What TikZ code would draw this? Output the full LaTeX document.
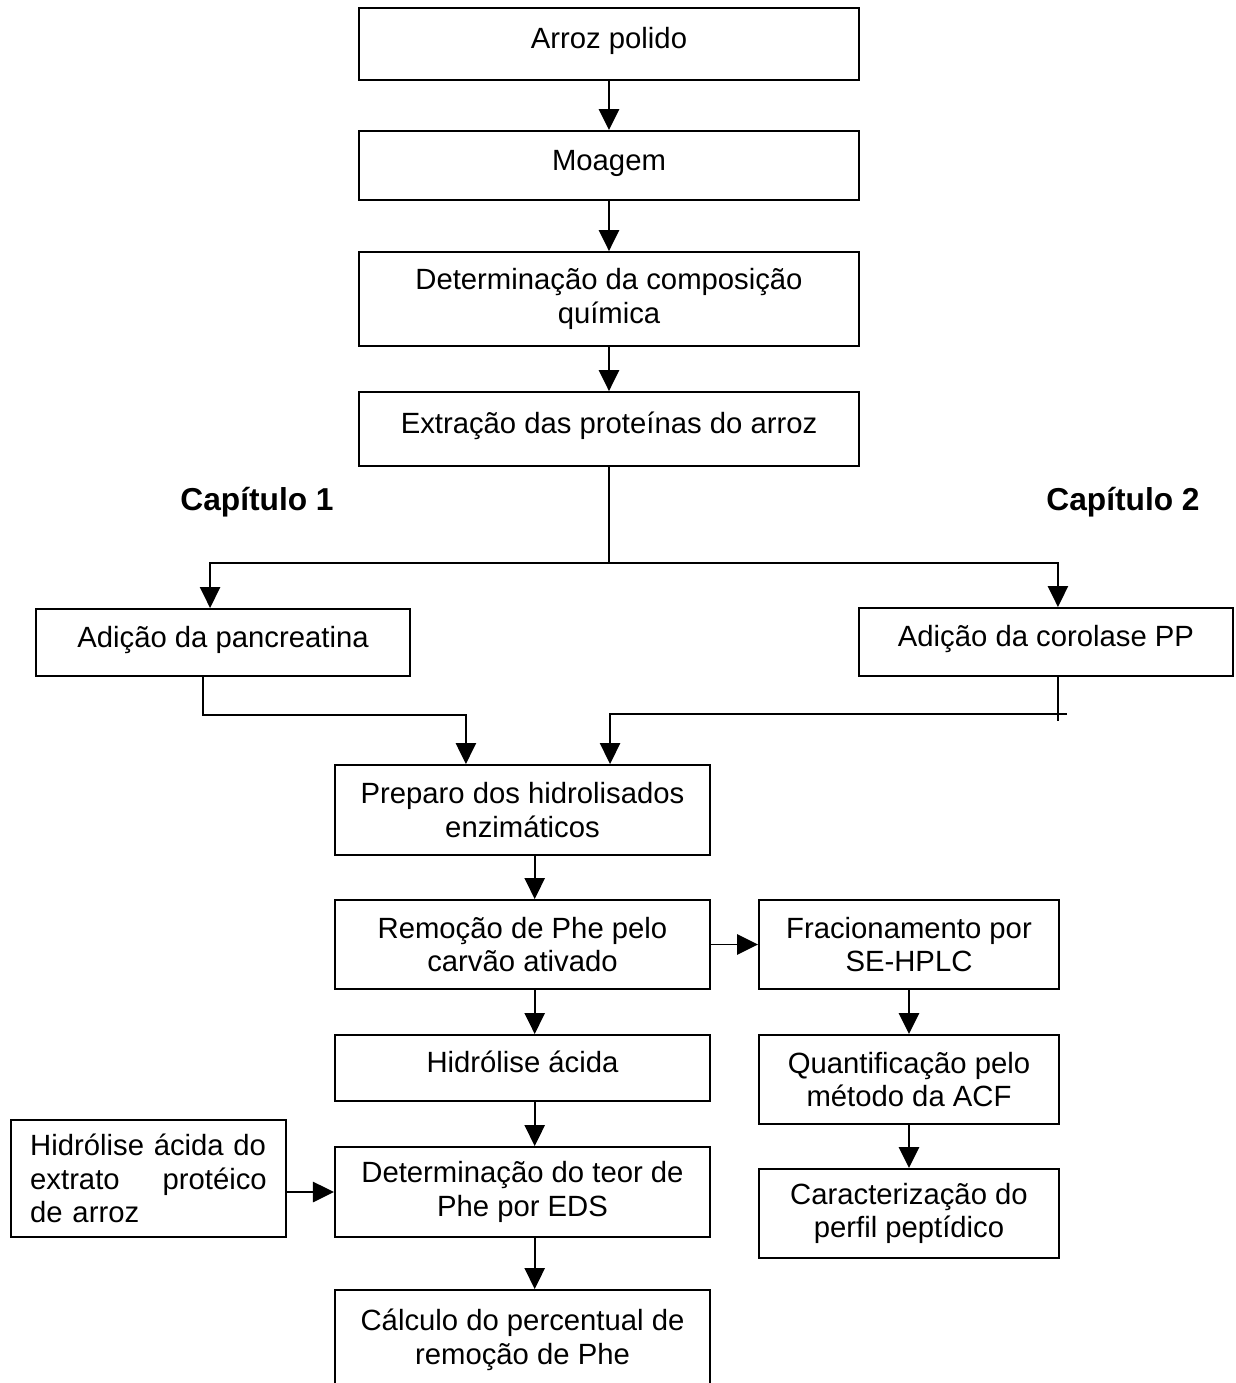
\documentclass[tikz,border=0pt]{standalone}
\usepackage{fontspec}
\setmainfont{Liberation Sans}
\usetikzlibrary{arrows.meta,positioning,calc}

\begin{document}
\begin{tikzpicture}[x=0.41pt,y=-0.41pt,
  font=\fontsize{12}{13.8}\selectfont,
  box/.style={draw,line width=0.8pt,align=center,inner sep=2pt},
  one/.style={text height=9pt,text depth=5pt},
  chaplabel/.style={font=\fontsize{13}{15}\selectfont\bfseries},
  arr/.style={line width=0.75pt,-{Triangle[width=8.3pt,length=8.6pt]}},
  lin/.style={line width=0.75pt}]
  \useasboundingbox (0,0) rectangle (1236,1383);

  \node[box,one,minimum width=205pt,minimum height=29.5pt] (arroz) at (609,44) {Arroz polido};
  \node[box,one,minimum width=205pt,minimum height=28.3pt] (moagem) at (609,165.5) {Moagem};
  \node[box,minimum width=205pt,minimum height=38.5pt] (compos) at (609,299) {Determinação da composição\\química};
  \node[box,one,minimum width=205pt,minimum height=30.3pt] (extracao) at (609,429) {Extração das proteínas do arroz};

  \node[chaplabel] (chap1) at (257,502) {Capítulo 1};
  \node[chaplabel] (chap2) at (1123,502) {Capítulo 2};

  \node[box,one,minimum width=153.3pt,minimum height=27.5pt] (pancrea) at (223,642.5) {Adição da pancreatina};
  \node[box,one,minimum width=153.3pt,minimum height=27.9pt] (corolase) at (1046,642) {Adição da corolase PP};

  \node[box,minimum width=153.8pt,minimum height=36.9pt] (preparo) at (522.5,810) {Preparo dos hidrolisados\\enzimáticos};
  \node[box,minimum width=153.8pt,minimum height=36.5pt] (remocao) at (522.5,944.5) {Remoção de Phe pelo\\carvão ativado};
  \node[box,one,minimum width=153.8pt,minimum height=27.1pt] (hidrol) at (522.5,1068) {Hidrólise ácida};
  \node[box,minimum width=153.8pt,minimum height=36.9pt] (teor) at (522.5,1192) {Determinação do teor de\\Phe por EDS};
  \node[box,minimum width=153.8pt,minimum height=41pt] (calculo) at (522.5,1340) {Cálculo do percentual de\\remoção de Phe};

  \node[box,minimum width=123pt,minimum height=36.5pt] (fracion) at (909,944.5) {Fracionamento por\\SE-HPLC};
  \node[box,minimum width=123pt,minimum height=36.5pt] (quantif) at (909,1079.5) {Quantificação pelo\\método da ACF};
  \node[box,minimum width=123pt,minimum height=36.5pt] (caract) at (909,1213.5) {Caracterização do\\perfil peptídico};

  \node[box,align=left,text width=97pt,minimum width=112.8pt,minimum height=48pt] (extrato) at (148.5,1178.5)
    {Hidrólise ácida do\\extrato\hfill protéico\\de arroz};

  \draw[arr] (arroz) -- (moagem);
  \draw[arr] (moagem) -- (compos);
  \draw[arr] (compos) -- (extracao);

  \draw[lin] (extracao.south) -- ++(0,96) coordinate (split);
  \draw[arr] (split) -| ([xshift=-5.3pt]pancrea.north);
  \draw[arr] (split) -| ([xshift=4.9pt]corolase.north);

  \draw[arr] ([xshift=-8.2pt]pancrea.south) -- ++(0,38) -| ([xshift=-23.2pt]preparo.north);
  \draw[lin] ([xshift=4.9pt]corolase.south) -- ++(0,44);
  \coordinate (rjoin) at (1067,714);
  \draw[arr] (rjoin) -| ([xshift=35.9pt]preparo.north);

  \draw[arr] ([xshift=5pt]preparo.south) -- ([xshift=5pt]remocao.north);
  \draw[arr] ([xshift=5pt]remocao.south) -- ([xshift=5pt]hidrol.north);
  \draw[arr] ([xshift=5pt]hidrol.south) -- ([xshift=5pt]teor.north);
  \draw[arr] ([xshift=5pt]teor.south) -- ([xshift=5pt]calculo.north);

  \draw[arr] (remocao) -- (fracion);
  \draw[arr] (fracion) -- (quantif);
  \draw[arr] (quantif) -- (caract);

  \draw[arr] (extrato.east |- teor.west) -- (teor.west);
\end{tikzpicture}
\end{document}
